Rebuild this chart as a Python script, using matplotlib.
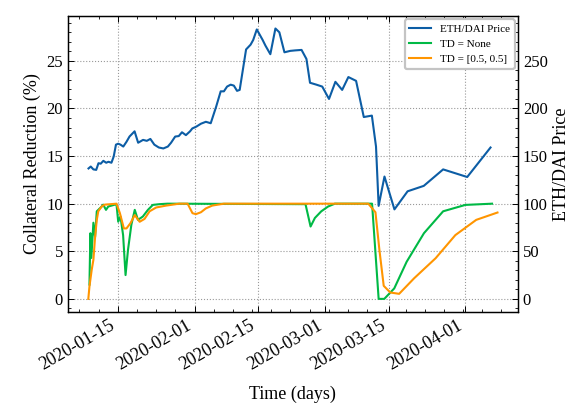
import matplotlib
matplotlib.use('Agg')

import pandas as pd
import matplotlib.pyplot as plt
import matplotlib.dates as mdates
from matplotlib.ticker import AutoMinorLocator, MultipleLocator

# science-like style
plt.rcParams['font.family'] = 'serif'
plt.rcParams['font.serif'] = ['Liberation Serif', 'DejaVu Serif']
plt.rcParams['mathtext.fontset'] = 'dejavuserif'
plt.rcParams['xtick.direction'] = 'in'
plt.rcParams['ytick.direction'] = 'in'
plt.rcParams['xtick.top'] = True
plt.rcParams['xtick.major.size'] = 4
plt.rcParams['ytick.major.size'] = 4
plt.rcParams['xtick.minor.size'] = 2
plt.rcParams['ytick.minor.size'] = 2
plt.rcParams['xtick.major.width'] = 0.7
plt.rcParams['ytick.major.width'] = 0.7
plt.rcParams['axes.linewidth'] = 0.9

# ---------------------------------------------------------
# data
# ---------------------------------------------------------
price_dates = [
    '2020-01-08 12:00', '2020-01-09 00:00', '2020-01-09 14:00', '2020-01-10 05:00',
    '2020-01-10 17:00', '2020-01-11 05:00', '2020-01-11 19:00', '2020-01-12 10:00',
    '2020-01-12 22:00', '2020-01-13 14:00', '2020-01-14 02:00', '2020-01-14 14:00',
    '2020-01-15 02:00', '2020-01-15 14:00', '2020-01-16 05:00', '2020-01-16 22:00',
    '2020-01-17 14:00', '2020-01-18 17:00', '2020-01-19 12:00', '2020-01-20 14:00',
    '2020-01-21 10:00', '2020-01-22 05:00', '2020-01-23 02:00', '2020-01-24 02:00',
    '2020-01-25 02:00', '2020-01-26 02:00', '2020-01-26 19:00', '2020-01-27 17:00',
    '2020-01-28 12:00', '2020-01-29 05:00', '2020-01-30 02:00', '2020-01-31 00:00',
    '2020-01-31 12:00', '2020-02-01 10:00', '2020-02-02 10:00', '2020-02-03 12:00',
    '2020-02-04 14:00', '2020-02-05 19:00', '2020-02-06 19:00', '2020-02-07 12:00',
    '2020-02-08 05:00', '2020-02-09 00:00', '2020-02-09 17:00', '2020-02-10 10:00',
    '2020-02-11 00:00', '2020-02-12 10:00', '2020-02-13 10:00', '2020-02-14 00:00',
    '2020-02-14 19:00', '2020-02-16 02:00', '2020-02-16 17:00', '2020-02-17 19:00',
    '2020-02-18 22:00', '2020-02-19 19:00', '2020-02-20 22:00', '2020-02-22 05:00',
    '2020-02-23 07:00', '2020-02-24 17:00', '2020-02-25 19:00', '2020-02-26 14:00',
    '2020-02-28 00:00', '2020-02-29 07:00', '2020-03-01 19:00', '2020-03-03 05:00',
    '2020-03-04 17:00', '2020-03-06 02:00', '2020-03-07 19:00', '2020-03-09 12:00',
    '2020-03-11 07:00', '2020-03-12 05:00', '2020-03-12 19:00', '2020-03-14 02:00',
    '2020-03-16 07:00', '2020-03-19 05:00', '2020-03-22 19:00', '2020-03-27 02:00',
    '2020-04-01 10:00', '2020-04-06 14:00',
]
eth_dai_price = [
    137, 139, 136, 135.5, 142.5, 142, 145, 143, 144, 143, 149.5, 162,
    163, 162, 160, 165, 170.5, 176, 164, 167, 166, 168, 162, 159,
    158, 160, 164, 170.5, 171, 175, 172, 176, 179, 181, 184, 186,
    184.5, 202, 218, 218, 223, 225, 224, 218.5, 219.5, 262, 267, 272,
    283, 272, 266, 257, 284, 280, 259, 260.5, 261, 261.5, 252, 227,
    225, 223, 210, 228, 219.5, 233, 229, 191, 192.5, 160, 97.7, 128.5,
    94, 113, 118.7, 136, 128, 159,
]

none_dates = [
    '2020-01-08 17:00', '2020-01-08 22:00', '2020-01-09 03:00', '2020-01-09 14:00',
    '2020-01-09 23:00', '2020-01-10 08:00', '2020-01-10 16:00', '2020-01-11 10:00',
    '2020-01-11 18:00', '2020-01-12 09:00', '2020-01-12 21:00', '2020-01-13 15:00',
    '2020-01-14 08:00', '2020-01-14 17:00', '2020-01-15 02:00', '2020-01-15 14:00',
    '2020-01-16 04:00', '2020-01-16 17:00', '2020-01-17 06:00', '2020-01-18 00:00',
    '2020-01-18 18:00', '2020-01-19 11:00', '2020-01-20 13:00', '2020-01-21 16:00',
    '2020-01-22 18:00', '2020-01-24 06:00', '2020-01-26 00:00', '2020-02-25 14:00',
    '2020-02-26 17:00', '2020-02-27 16:00', '2020-02-29 02:00', '2020-03-01 14:00',
    '2020-03-03 02:00', '2020-03-11 08:00', '2020-03-12 19:00', '2020-03-14 01:00',
    '2020-03-16 06:00', '2020-03-19 00:00', '2020-03-22 20:00', '2020-03-27 02:00',
    '2020-04-01 00:00', '2020-04-06 22:00',
]
td_none = [
    1.5, 6.9, 4.3, 8.0, 6.5, 9.2, 9.35, 9.7, 9.9, 9.35, 9.7, 9.8,
    9.9, 9.9, 8.1, 8.65, 6.7, 2.5, 5.15, 7.8, 9.35, 8.3, 8.65, 9.35,
    9.87, 9.95, 10, 9.95, 7.6, 8.5, 9.2, 9.7, 10, 10, 0, 0,
    1.1, 3.9, 6.9, 9.2, 9.87, 10,
]

half_dates = [
    '2020-01-08 11:00', '2020-01-08 17:00', '2020-01-09 05:00', '2020-01-09 14:00',
    '2020-01-09 23:00', '2020-01-10 08:00', '2020-01-10 16:00', '2020-01-11 10:00',
    '2020-01-12 03:00', '2020-01-14 17:00', '2020-01-15 11:00', '2020-01-16 08:00',
    '2020-01-16 22:00', '2020-01-17 19:00', '2020-01-18 18:00', '2020-01-19 20:00',
    '2020-01-20 22:00', '2020-01-22 01:00', '2020-01-23 12:00', '2020-01-25 17:00',
    '2020-01-28 15:00', '2020-01-30 11:00', '2020-01-31 13:00', '2020-02-01 07:00',
    '2020-02-02 10:00', '2020-02-03 12:00', '2020-02-04 22:00', '2020-02-07 12:00',
    '2020-03-10 12:00', '2020-03-12 02:00', '2020-03-12 23:00', '2020-03-13 22:00',
    '2020-03-15 09:00', '2020-03-17 08:00', '2020-03-20 16:00', '2020-03-25 10:00',
    '2020-03-29 19:00', '2020-04-03 10:00', '2020-04-08 03:00',
]
td_half = [
    0, 1.3, 3.05, 4.1, 6.5, 8.3, 9.2, 9.7, 9.9, 10, 9.0, 7.4,
    7.4, 7.95, 8.8, 8.1, 8.4, 9.2, 9.6, 9.8, 10, 10, 9.0, 8.9,
    9.1, 9.5, 9.8, 10, 10, 9.1, 5.15, 1.37, 0.67, 0.53, 2.17, 4.27,
    6.7, 8.3, 9.07,
]

price_x = pd.to_datetime(price_dates)
none_x = pd.to_datetime(none_dates)
half_x = pd.to_datetime(half_dates)

# ---------------------------------------------------------
# plot
# ---------------------------------------------------------
fig = plt.figure(figsize=(5.8, 4.03), dpi=100)
ax1 = fig.add_axes([0.117, 0.226, 0.776, 0.734])
ax2 = ax1.twinx()

l_none, = ax1.plot(none_x, td_none, color='#00B945', lw=1.5, label='TD = None')
l_half, = ax1.plot(half_x, td_half, color='#FF9500', lw=1.5, label='TD = [0.5, 0.5]')
l_price, = ax2.plot(price_x, eth_dai_price, color='#0C5DA5', lw=1.5, label='ETH/DAI Price')

ax1.set_ylim(-1.37, 29.7)
ax2.set_ylim(-13.7, 297)
ax1.yaxis.set_major_locator(MultipleLocator(5))
ax1.yaxis.set_minor_locator(MultipleLocator(1))
ax2.yaxis.set_major_locator(MultipleLocator(50))
ax2.yaxis.set_minor_locator(MultipleLocator(10))

ax1.xaxis.set_major_locator(mdates.DayLocator(bymonthday=[1, 15]))
ax1.xaxis.set_major_formatter(mdates.DateFormatter('%Y-%m-%d'))
ax1.xaxis.set_minor_locator(AutoMinorLocator(4))

ax1.grid(True, linestyle=':', color='#999999', linewidth=0.8)
for lab in ax1.get_xticklabels():
    lab.set_rotation(30)
    lab.set_ha('right')

ax1.tick_params(axis='x', labelsize=13)
ax1.tick_params(axis='y', labelsize=12)
ax2.tick_params(labelsize=12)
ax1.set_xlabel('Time (days)', fontsize=13, labelpad=9)
ax1.set_ylabel('Collateral Reduction (%)', fontsize=13)
ax2.set_ylabel('ETH/DAI Price', fontsize=13)

leg = ax2.legend(handles=[l_price, l_none, l_half], loc='upper right',
                 fontsize=8, borderaxespad=0.3, framealpha=1,
                 edgecolor='#c4c4c4')
leg.get_frame().set_linewidth(1.6)

fig.savefig('out.png', dpi=100)
